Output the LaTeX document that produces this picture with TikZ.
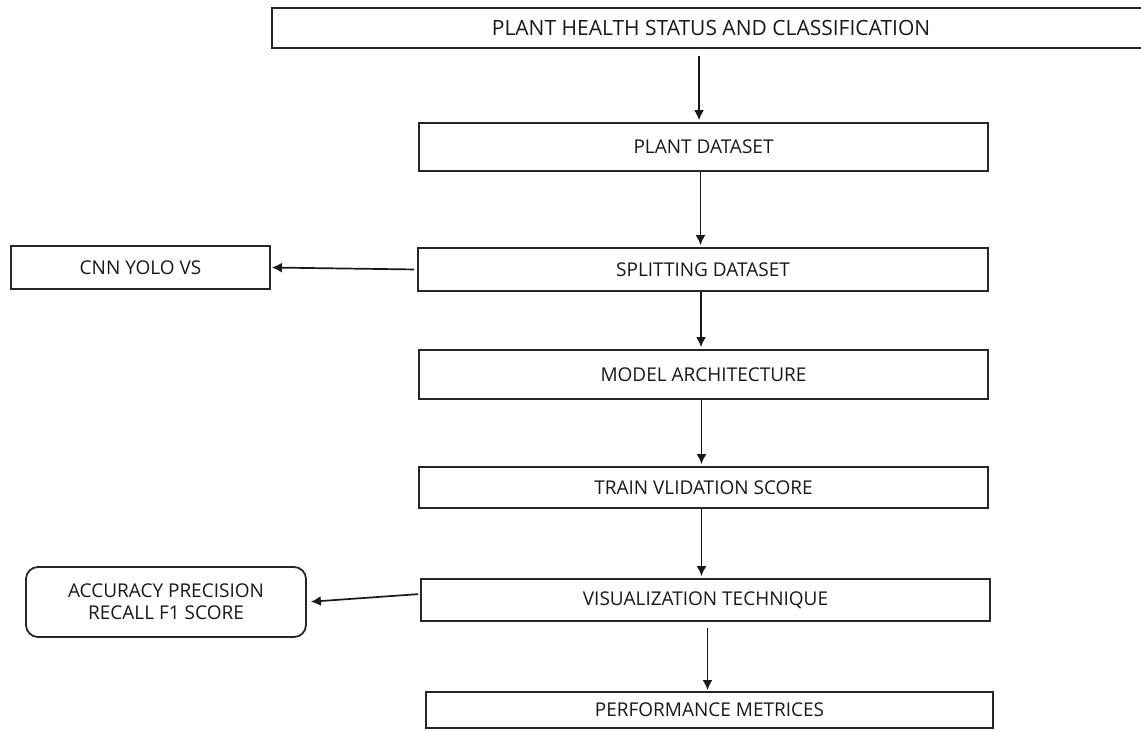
\documentclass[tikz,border=0pt]{standalone}
\usepackage{fontspec}
\setmainfont{Open Sans}
\usepackage{tikz}
\usetikzlibrary{arrows.meta}

\tikzset{
	stage/.style={draw=black!85, line width=1.8pt, inner sep=0pt, text=black!90,
		font=\fontsize{19}{22}\selectfont},
	flow/.style={draw=black!90, line width=1.7pt, -{Latex[length=10pt,width=10pt]}}
}

\begin{document}
\begin{tikzpicture}[x=1pt,y=-1pt]
		\useasboundingbox (0,0) rectangle (1141,731);
		\clip (0,0) rectangle (1141,731);
		\node[stage, minimum width=878pt, minimum height=40pt, font=\fontsize{21}{24}\selectfont] (status) at (711,28) {PLANT HEALTH STATUS AND CLASSIFICATION};
		\node[stage, minimum width=569pt, minimum height=48pt] (dataset) at (703.5,147) {PLANT DATASET};
		\node[stage, minimum width=570pt, minimum height=43pt] (split) at (703,269.5) {SPLITTING DATASET};
		\node[stage, minimum width=569pt, minimum height=49pt] (model) at (703.5,374.5) {MODEL ARCHITECTURE};
		\node[stage, minimum width=569pt, minimum height=41pt] (train) at (703.5,487.5) {TRAIN VLIDATION SCORE};
		\node[stage, minimum width=569pt, minimum height=42pt] (visual) at (705.5,600) {VISUALIZATION TECHNIQUE};
		\node[stage, minimum width=567pt, minimum height=36pt, anchor=north] (perf) at (709.5,691) {PERFORMANCE METRICES};
		\node[stage, minimum width=259pt, minimum height=43pt] (yolo) at (140.5,267.5) {CNN YOLO VS};
		\node[stage, minimum width=280pt, minimum height=70pt, rounded corners=12pt, align=center] (scores) at (166,602) {ACCURACY PRECISION\\RECALL F1 SCORE};
		\draw[flow, shorten <=7pt, shorten >=2pt] ([xshift=-12pt]status.south) -- ([xshift=-12pt]status.south |- dataset.north);
		\draw[flow, shorten >=2pt] ([xshift=-3pt]dataset.south) -- ([xshift=-3pt]dataset.south |- split.north);
		\draw[flow, shorten >=2pt] ([xshift=-2pt]split.south) -- ([xshift=-2pt]split.south |- model.north);
		\draw[flow, shorten >=2pt] ([xshift=-2pt]model.south) -- ([xshift=-2pt]model.south |- train.north);
		\draw[flow, shorten >=2pt] ([xshift=-2pt]train.south) -- ([xshift=-2pt]train.south |- visual.north);
		\draw[flow, shorten <=6pt, shorten >=1pt] ([xshift=2pt]visual.south) -- ([xshift=2pt]visual.south |- perf.north);
		\draw[flow, shorten <=3pt, shorten >=1pt] (split.west) -- (yolo.east);
		\draw[flow, shorten <=2pt, shorten >=4pt] ([yshift=6pt]visual.west) -- (scores.east);
	\end{tikzpicture}
\end{document}
